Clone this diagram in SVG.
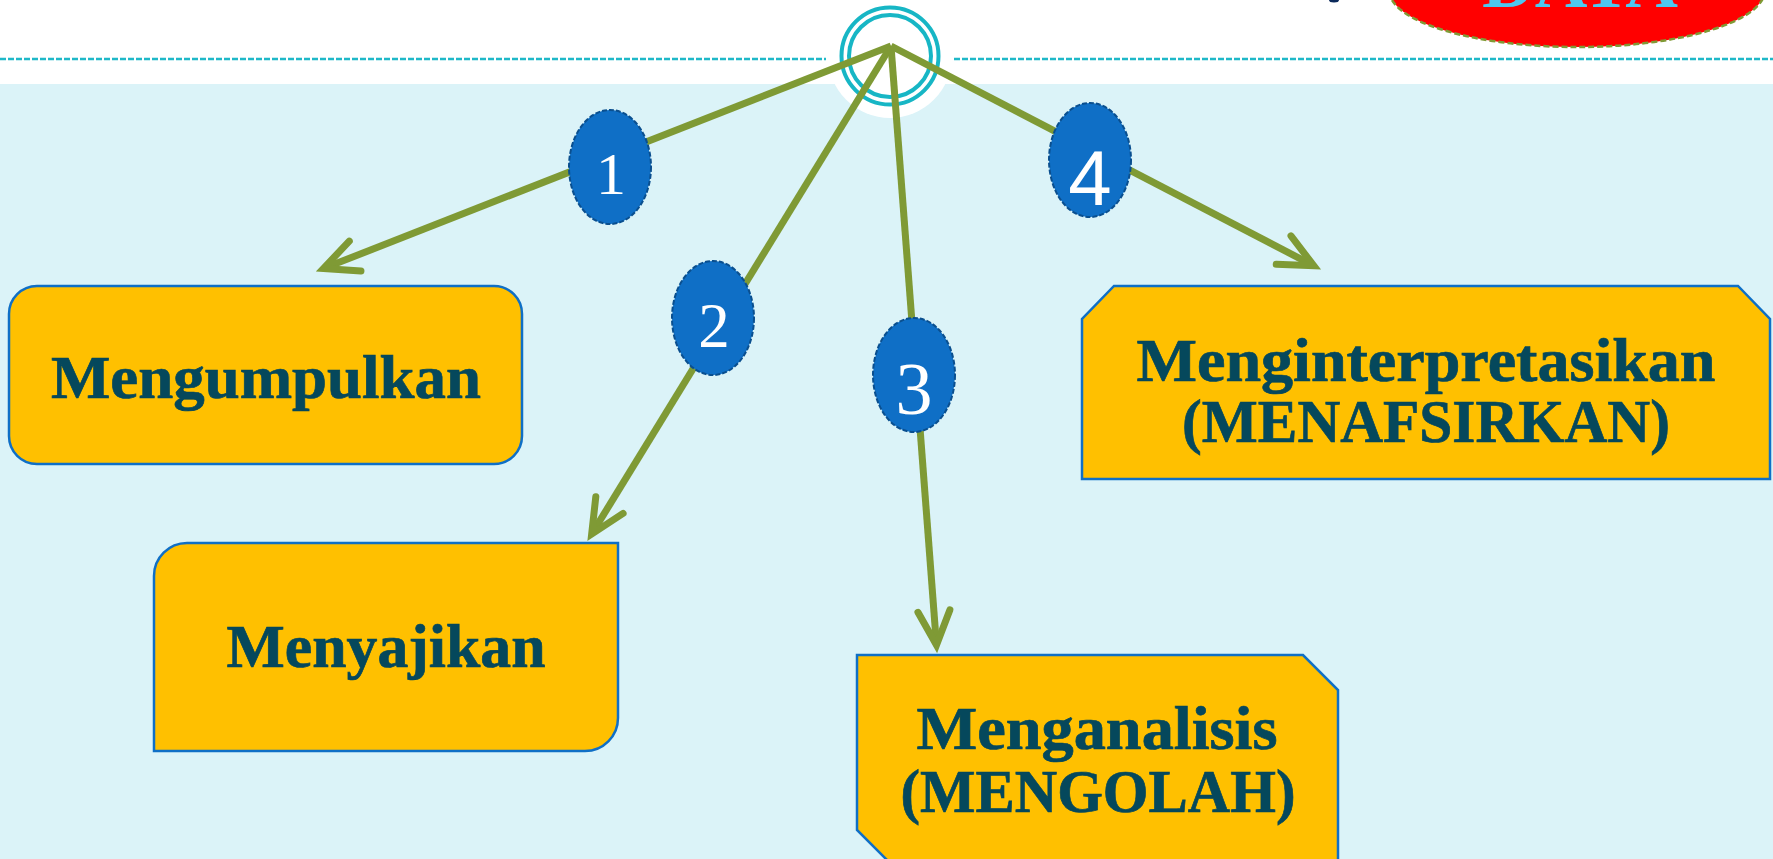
<svg xmlns="http://www.w3.org/2000/svg" width="1773" height="859" viewBox="0 0 1773 859">
  <defs>
    <style>
      .box { fill: #ffc000; stroke: #0f6fc6; stroke-width: 2.5; }
      .lbl { font-family: "Liberation Serif", "DejaVu Serif", serif; font-weight: bold; fill: #05485c; stroke: #05485c; stroke-width: 0.7; text-anchor: middle; }
      .conn { stroke: #7f9a35; stroke-width: 7; fill: none; stroke-linecap: butt; }
      .badge { fill: #0f6fc6; stroke: #0a4f8f; stroke-width: 2; stroke-dasharray: 5 2; }
      .num { font-family: "Liberation Serif", serif; fill: #ffffff; text-anchor: middle; }
      .dash { stroke: #1fb8c8; stroke-width: 2.5; stroke-dasharray: 6 2; fill: none; }
      .ring { fill: none; stroke: #17b6c5; stroke-width: 4; }
    </style>
    <marker id="arrow" markerUnits="userSpaceOnUse" viewBox="-45 -24 55 48" markerWidth="55" markerHeight="48" refX="0" refY="0" orient="auto" overflow="visible">
      <path d="M -33,-16 L 1,0 L -33,16" fill="none" stroke="#7f9a35" stroke-width="7" stroke-linecap="round" stroke-linejoin="miter"/>
    </marker>
  </defs>

  <!-- background -->
  <rect x="0" y="0" width="1773" height="859" fill="#ffffff"/>
  <rect x="0" y="84" width="1773" height="775" fill="#dbf3f8"/>

  <!-- top header elements -->
  <g id="header">
    <ellipse cx="1577" cy="-10" rx="188" ry="57" fill="#ff0000" stroke="#7f9a35" stroke-width="2.5" stroke-dasharray="6 3"/>
    <text x="1580" y="7" font-family="Liberation Serif, serif" font-weight="bold" font-size="70" fill="#4dc8f0" text-anchor="middle" textLength="196" lengthAdjust="spacingAndGlyphs">DATA</text>
    <ellipse cx="1334" cy="0" rx="5" ry="2.5" fill="#0b2a5b"/>
    <line class="dash" x1="0" y1="59" x2="826" y2="59"/>
    <line class="dash" x1="954" y1="59" x2="1773" y2="59"/>
    <circle cx="890" cy="56" r="62" fill="#ffffff"/>
    <circle class="ring" cx="890" cy="56" r="48.5"/>
    <circle class="ring" cx="890" cy="56" r="41"/>
  </g>

  <!-- nodes -->
  <g id="node-mengumpulkan">
    <rect class="box" x="9" y="286" width="513" height="178" rx="28" ry="28"/>
    <text class="lbl" x="266" y="398" font-size="62" textLength="430" lengthAdjust="spacingAndGlyphs">Mengumpulkan</text>
  </g>

  <g id="node-menyajikan">
    <path class="box" d="M187,543 H618 V718 A33,33 0 0 1 585,751 H154 V576 A33,33 0 0 1 187,543 Z"/>
    <text class="lbl" x="386" y="667" font-size="61" textLength="319" lengthAdjust="spacingAndGlyphs">Menyajikan</text>
  </g>

  <g id="node-menganalisis">
    <path class="box" d="M857,655 H1303 L1338,690 V863 H890 L857,830 Z"/>
    <text class="lbl" x="1097" y="749" font-size="61" textLength="361" lengthAdjust="spacingAndGlyphs">Menganalisis</text>
    <text class="lbl" x="1098" y="812" font-size="61" textLength="395" lengthAdjust="spacingAndGlyphs">(MENGOLAH)</text>
  </g>

  <g id="node-menginterpretasikan">
    <path class="box" d="M1114,286 H1738 L1770,319 V479 H1082 V319 Z"/>
    <text class="lbl" x="1426" y="381" font-size="61" textLength="579" lengthAdjust="spacingAndGlyphs">Menginterpretasikan</text>
    <text class="lbl" x="1426" y="442" font-size="61" textLength="488" lengthAdjust="spacingAndGlyphs">(MENAFSIRKAN)</text>
  </g>

  <!-- connectors -->
  <g id="connectors">
    <line class="conn" x1="891" y1="46" x2="324.4" y2="268.1" marker-end="url(#arrow)"/>
    <line class="conn" x1="891" y1="46" x2="592.2" y2="533.2" marker-end="url(#arrow)"/>
    <line class="conn" x1="891" y1="46" x2="936.4" y2="644" marker-end="url(#arrow)"/>
    <line class="conn" x1="891" y1="46" x2="1312.9" y2="265.3" marker-end="url(#arrow)"/>
  </g>

  <!-- number badges -->
  <g id="badge-1">
    <ellipse class="badge" cx="610" cy="167" rx="41" ry="57"/>
    <text class="num" x="611" y="194" font-size="60">1</text>
  </g>
  <g id="badge-2">
    <ellipse class="badge" cx="713" cy="318" rx="41" ry="57"/>
    <text class="num" x="714" y="347" font-size="63">2</text>
  </g>
  <g id="badge-3">
    <ellipse class="badge" cx="914" cy="375" rx="41" ry="57"/>
    <text class="num" x="914" y="414" font-size="74">3</text>
  </g>
  <g id="badge-4">
    <ellipse class="badge" cx="1090" cy="160" rx="41" ry="57"/>
    <text x="1090" y="205" font-family="Liberation Sans, sans-serif" font-size="78" fill="#ffffff" text-anchor="middle">4</text>
  </g>
</svg>
